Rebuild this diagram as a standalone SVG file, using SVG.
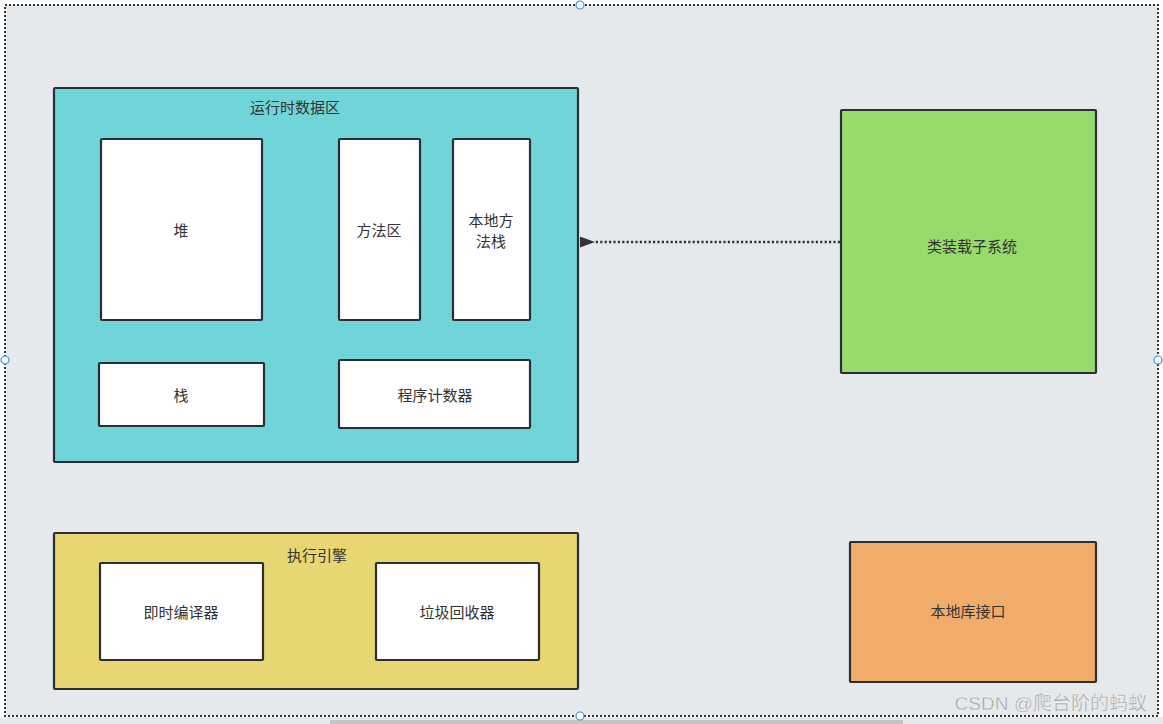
<svg xmlns="http://www.w3.org/2000/svg" width="1163" height="724" viewBox="0 0 1163 724">
<defs>
<style>
.box{stroke:#2a2f35;stroke-width:2.2}
.w{fill:#ffffff}
.t{font-family:"Noto Sans CJK SC","Liberation Sans",sans-serif;font-size:15px;fill:#333333;text-anchor:middle;dominant-baseline:central}
.h{fill:#ffffff;stroke:#3b8ff0;stroke-width:1.2}
</style>
<marker id="ah" viewBox="0 0 15 11" refX="0" refY="5.5" markerWidth="15" markerHeight="11" markerUnits="userSpaceOnUse" orient="auto">
<path d="M15,0 L0,5.5 L15,11 z" fill="#333333"/>
</marker>
</defs>
<rect x="0" y="0" width="1163" height="724" fill="#ffffff"/>
<rect x="5" y="5" width="1153" height="711" fill="#e6e9ec" stroke="#333333" stroke-width="2" stroke-dasharray="2 2"/>
<rect x="0" y="717" width="1163" height="7" fill="#e6e9ec"/>
<rect x="330" y="720" width="573" height="4" fill="#c4c4c4"/>

<g id="runtime">
<rect class="box" x="54" y="88" width="524" height="374" rx="1" fill="#6fd5d8"/>
<text class="t" x="295" y="106">运行时数据区</text>
</g>
<g id="heap">
<rect class="box w" x="101" y="139" width="161" height="181" rx="1"/>
<text class="t" x="181" y="229">堆</text>
</g>
<g id="method-area">
<rect class="box w" x="339" y="139" width="81" height="181" rx="1"/>
<text class="t" x="379" y="229">方法区</text>
</g>
<g id="native-stack">
<rect class="box w" x="453" y="139" width="77" height="181" rx="1"/>
<text class="t" x="491" y="219">本地方</text>
<text class="t" x="491" y="240">法栈</text>
</g>
<g id="stack">
<rect class="box w" x="99" y="363" width="165" height="63" rx="1"/>
<text class="t" x="181" y="394">栈</text>
</g>
<g id="pc">
<rect class="box w" x="339" y="360" width="191" height="68" rx="1"/>
<text class="t" x="435" y="394">程序计数器</text>
</g>
<g id="classloader">
<rect class="box" x="841" y="110" width="255" height="263" rx="1" fill="#97db6c"/>
<text class="t" x="972" y="245">类装载子系统</text>
</g>
<g id="engine">
<rect class="box" x="54" y="533" width="524" height="156" rx="1" fill="#e8d672"/>
<text class="t" x="317" y="554">执行引擎</text>
</g>
<g id="jit">
<rect class="box w" x="100" y="563" width="163" height="97" rx="1"/>
<text class="t" x="181" y="611">即时编译器</text>
</g>
<g id="gc">
<rect class="box w" x="376" y="563" width="163" height="97" rx="1"/>
<text class="t" x="457" y="611">垃圾回收器</text>
</g>
<g id="native-interface">
<rect class="box" x="850" y="542" width="246" height="140" rx="1" fill="#f2ac6a"/>
<text class="t" x="968" y="610">本地库接口</text>
</g>

<g id="connectors">
<line x1="840" y1="242" x2="595" y2="242" stroke="#333333" stroke-width="2.5" stroke-dasharray="2.2 2.2" marker-end="url(#ah)"/>
</g>

<g id="handles">
<circle class="h" cx="580" cy="5" r="4"/>
<circle class="h" cx="5" cy="360" r="4"/>
<circle class="h" cx="1158" cy="360" r="4"/>
<circle class="h" cx="580" cy="716" r="4"/>
</g>

<text x="1147" y="703" font-family="Liberation Sans,Noto Sans CJK SC,sans-serif" font-size="19" fill="#a3a3a3" stroke="#ffffff" stroke-width="0.3" text-anchor="end" dominant-baseline="central">CSDN @爬台阶的蚂蚁</text>
</svg>
